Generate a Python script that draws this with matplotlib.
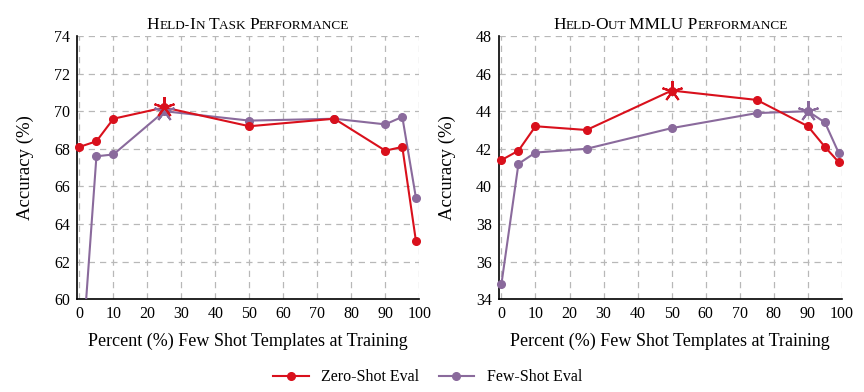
import numpy as np
import matplotlib
matplotlib.use('Agg')
import matplotlib.pyplot as plt
from matplotlib.transforms import IdentityTransform
from matplotlib.lines import Line2D

# data
pct = [0, 5, 10, 25, 50, 75, 90, 95, 99]

held_in_zero = [68.1, 68.4, 69.6, 70.2, 69.2, 69.6, 67.9, 68.1, 63.1]
held_in_few = [55.0, 67.6, 67.7, 70.0, 69.5, 69.6, 69.3, 69.7, 65.4]

mmlu_zero = [41.4, 41.9, 43.2, 43.0, 45.1, 44.6, 43.2, 42.1, 41.3]
mmlu_few = [34.8, 41.2, 41.8, 42.0, 43.1, 43.9, 44.0, 43.4, 41.8]

# index of best point (drawn as a star)
best_in_zero, best_in_few = 3, 3
best_mmlu_zero, best_mmlu_few = 4, 6

titles = ['Held-In Task Performance', 'Held-Out MMLU Performance']
ylims = [(60, 74), (34, 48)]
yticks = [np.arange(60, 75, 2), np.arange(34, 49, 2)]
xticks = np.arange(0, 101, 10)

RED = '#d9101c'
PURPLE = '#8a6a9c'
SERIF = 'Liberation Serif'

plt.rcParams['font.family'] = SERIF

fig = plt.figure(figsize=(8.64, 3.92), dpi=100)
ax1 = fig.add_axes([0.0888, 0.237, 0.3965, 0.671])
ax2 = fig.add_axes([0.5772, 0.237, 0.3973, 0.671])


def small_caps(ax, text, big, small, y_px):
    # fake small caps: lower case letters drawn as smaller capitals
    runs = []
    for ch in text:
        if ch.islower():
            sz, c = small, ch.upper()
        elif ch.isupper():
            sz, c = big, ch
        else:
            sz, c = (runs[-1][1] if runs else big), ch
        if runs and runs[-1][1] == sz:
            runs[-1][0] += c
        else:
            runs.append([c, sz])
    r = fig.canvas.get_renderer()
    arts = [fig.text(0, 0, s, fontsize=sz, transform=IdentityTransform(),
                     ha='left', va='baseline') for s, sz in runs]
    widths = [t.get_window_extent(r).width for t in arts]
    bb = ax.get_window_extent(r)
    x = (bb.x0 + bb.x1) / 2 - sum(widths) / 2
    for t, w in zip(arts, widths):
        t.set_position((x, y_px))
        x += w


def series(ax, y, best, color, z):
    lo, hi = ax.get_ylim()
    ax.plot(pct, y, color=color, lw=1.5, zorder=z)
    xs = [p for p, v in zip(pct, y) if lo <= v <= hi]
    ys = [v for v in y if lo <= v <= hi]
    ax.plot(xs, ys, ls='none', color=color, marker='o', ms=5.5, zorder=z, clip_on=False)
    ax.plot(pct[best], y[best], color=color, marker=(5, 2, 0), ms=15, mew=1.5,
            zorder=z + 2, clip_on=False)


panels = [
    (ax1, held_in_zero, held_in_few, best_in_zero, best_in_few),
    (ax2, mmlu_zero, mmlu_few, best_mmlu_zero, best_mmlu_few),
]

for i, (ax, zero, few, bz, bf) in enumerate(panels):
    ax.set_xlim(-0.8, 100)
    ax.set_ylim(*ylims[i])
    series(ax, few, bf, PURPLE, 3)
    series(ax, zero, bz, RED, 4)

    ax.set_xticks(xticks)
    ax.set_yticks(yticks[i])
    ax.tick_params(length=0, labelsize=11.5, pad=5)
    ax.grid(True, color='#b8b8b8', ls=(0, (5, 4)), lw=0.9)
    for s in ['top', 'right']:
        ax.spines[s].set_visible(False)
    for s in ['left', 'bottom']:
        ax.spines[s].set_linewidth(1.2)
    ax.set_xlabel('Percent (%) Few Shot Templates at Training', fontsize=13, labelpad=8)
    ax.set_ylabel('Accuracy (%)', fontsize=13.5, labelpad=14)

fig.canvas.draw()
for ax, t in zip([ax1, ax2], titles):
    small_caps(ax, t, 12.5, 9.5, 392 - 29)

handles = [
    Line2D([], [], color=RED, lw=1.5, marker='o', ms=5.5),
    Line2D([], [], color=PURPLE, lw=1.5, marker='o', ms=5.5),
]
fig.legend(handles, ['Zero-Shot Eval', 'Few-Shot Eval'], loc='center',
           bbox_to_anchor=(0.495, 0.038), ncol=2, frameon=False, fontsize=11.5,
           handlelength=2.2, columnspacing=1.2)

fig.savefig('out.png', dpi=100)
